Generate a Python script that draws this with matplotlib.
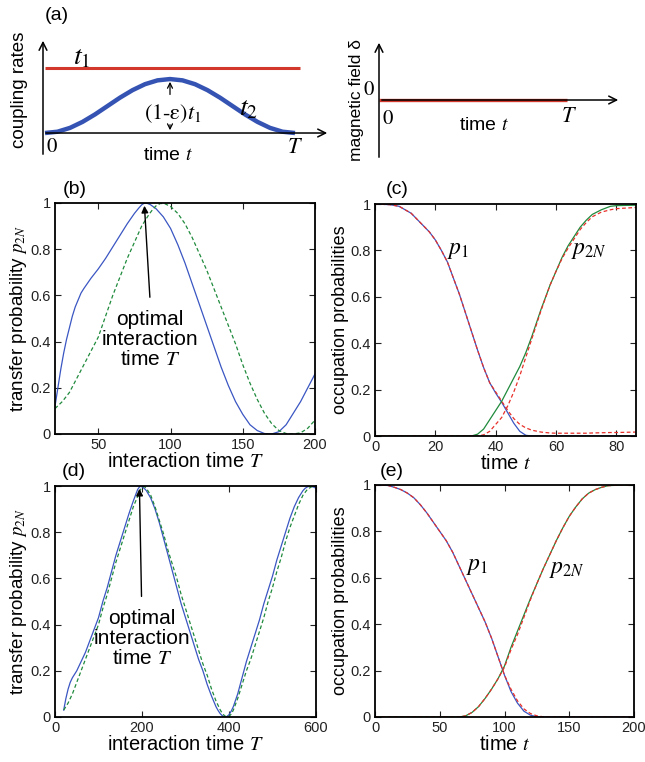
import matplotlib
matplotlib.use('Agg')
import matplotlib.pyplot as plt
from matplotlib.ticker import FuncFormatter

plt.rcParams['font.family'] = ['Liberation Sans', 'DejaVu Sans']
plt.rcParams['mathtext.fontset'] = 'stix'

# --- данные схемы (a) ---
sched_time = [0.0, 0.05, 0.1, 0.15, 0.2, 0.25, 0.3, 0.35, 0.4, 0.45, 0.5,
              0.55, 0.6, 0.65, 0.7, 0.75, 0.8, 0.85, 0.9, 0.95, 1.0]
sched_t2 = [0.0, 0.02, 0.079, 0.171, 0.286, 0.415, 0.544, 0.659, 0.751, 0.81, 0.83,
            0.81, 0.751, 0.659, 0.544, 0.415, 0.286, 0.171, 0.079, 0.02, 0.0]
t1_time = [0.008, 1.028]
t1_level = [1.0, 1.0]
delta_time = [0.0, 1.0]
delta_level = [0.0, 0.0]

# --- панель (b) ---
b_T = [20, 22, 24, 26, 28, 30, 32, 34, 36, 38, 40, 45, 50, 55, 60, 65, 70, 75, 78, 80, 82,
       84, 86, 90, 95, 100, 105, 110, 115, 120, 125, 130, 135, 140, 145, 150, 155, 160, 165,
       170, 175, 180, 185, 190, 195, 200]
b_blue = [0.12, 0.20, 0.28, 0.35, 0.41, 0.46, 0.51, 0.55, 0.58, 0.61, 0.63, 0.675, 0.715,
          0.76, 0.81, 0.86, 0.91, 0.955, 0.978, 0.992, 1.0, 0.998, 0.993, 0.975, 0.94, 0.89,
          0.82, 0.74, 0.65, 0.56, 0.47, 0.38, 0.29, 0.21, 0.14, 0.085, 0.04, 0.015, 0.002,
          0.0, 0.01, 0.04, 0.09, 0.14, 0.20, 0.26]
b_T2 = [20, 25, 30, 35, 40, 45, 50, 55, 60, 65, 70, 75, 80, 85, 88, 90, 93, 96, 100, 105,
        110, 115, 120, 125, 130, 135, 140, 145, 150, 155, 160, 165, 170, 175, 180, 185, 190,
        195, 200]
b_green = [0.11, 0.14, 0.18, 0.24, 0.30, 0.36, 0.42, 0.51, 0.60, 0.68, 0.76, 0.83, 0.90,
           0.95, 0.975, 0.988, 0.998, 0.997, 0.985, 0.955, 0.91, 0.85, 0.78, 0.71, 0.63,
           0.55, 0.47, 0.39, 0.30, 0.22, 0.15, 0.09, 0.045, 0.015, 0.002, 0.0, 0.005, 0.025,
           0.06]

# --- панель (c) ---
c_t = [0, 5, 8, 10, 12, 15, 18, 20, 22, 24, 26, 28, 30, 32, 34, 36, 38, 40, 42, 44, 46, 48,
       50, 52, 55, 58, 60, 62, 64, 66, 68, 70, 72, 75, 78, 80, 86.5]
c_p1 = [1, 0.997, 0.99, 0.975, 0.96, 0.92, 0.88, 0.845, 0.80, 0.75, 0.68, 0.61, 0.53, 0.45,
        0.37, 0.295, 0.23, 0.185, 0.145, 0.10, 0.055, 0.02, 0.003, 0.0, 0, 0, 0, 0, 0, 0, 0,
        0, 0, 0, 0, 0, 0]
c_p1_ref = [1, 0.997, 0.99, 0.975, 0.96, 0.92, 0.88, 0.845, 0.80, 0.75, 0.68, 0.61, 0.53, 0.45,
            0.37, 0.295, 0.23, 0.19, 0.15, 0.11, 0.075, 0.05, 0.035, 0.025, 0.017, 0.013, 0.012,
            0.012, 0.012, 0.012, 0.012, 0.012, 0.013, 0.014, 0.015, 0.015, 0.017]
c_p2n = [0, 0, 0, 0, 0, 0, 0, 0, 0, 0, 0, 0, 0, 0, 0.008, 0.03, 0.07, 0.11, 0.15, 0.20, 0.25,
         0.30, 0.36, 0.43, 0.545, 0.65, 0.71, 0.77, 0.82, 0.86, 0.90, 0.93, 0.955, 0.975,
         0.99, 0.993, 0.995]
c_p2n_ref = [0, 0, 0, 0, 0, 0, 0, 0, 0, 0, 0, 0, 0, 0, 0, 0.005, 0.02, 0.05, 0.08, 0.13, 0.19,
             0.26, 0.34, 0.42, 0.54, 0.65, 0.71, 0.765, 0.81, 0.85, 0.89, 0.92, 0.945, 0.965,
             0.975, 0.98, 0.985]

# --- панель (d) ---
d_T = [20, 25, 30, 35, 40, 50, 60, 70, 80, 90, 100, 110, 120, 130, 140, 150, 160, 170, 180,
       185, 190, 195, 200, 205, 210, 220, 230, 240, 250, 260, 270, 280, 290, 300, 310, 320,
       330, 340, 350, 360, 370, 375, 380, 385, 390, 395, 400, 405, 410, 420, 430, 440, 450,
       460, 470, 480, 490, 500, 510, 520, 530, 540, 550, 560, 570, 575, 580, 585, 590, 595,
       600]
d_blue = [0.03, 0.08, 0.12, 0.15, 0.17, 0.20, 0.24, 0.28, 0.33, 0.38, 0.43, 0.50, 0.56, 0.63,
          0.70, 0.76, 0.82, 0.88, 0.935, 0.96, 0.985, 0.998, 0.997, 0.99, 0.98, 0.948, 0.90,
          0.84, 0.77, 0.70, 0.63, 0.56, 0.49, 0.43, 0.37, 0.31, 0.25, 0.20, 0.14, 0.09, 0.045,
          0.028, 0.014, 0.005, 0.0, 0.002, 0.01, 0.025, 0.045, 0.10, 0.17, 0.24, 0.30, 0.36,
          0.42, 0.49, 0.55, 0.61, 0.68, 0.74, 0.80, 0.86, 0.91, 0.95, 0.98, 0.99, 0.996, 0.999,
          0.998, 0.995, 0.99]
d_T2 = [20, 30, 40, 50, 60, 70, 80, 90, 100, 110, 120, 130, 140, 150, 160, 170, 180, 190,
        195, 200, 205, 210, 220, 230, 240, 250, 260, 270, 280, 290, 300, 310, 320, 330, 340,
        350, 360, 370, 380, 385, 390, 395, 400, 405, 410, 420, 430, 440, 450, 460, 470, 480,
        490, 500, 510, 520, 530, 540, 550, 560, 570, 580, 590, 595, 600]
d_green = [0.03, 0.06, 0.10, 0.15, 0.20, 0.25, 0.30, 0.35, 0.40, 0.47, 0.53, 0.60, 0.67, 0.73,
           0.79, 0.85, 0.91, 0.955, 0.98, 0.995, 0.998, 0.99, 0.96, 0.91, 0.85, 0.79, 0.72,
           0.66, 0.60, 0.53, 0.47, 0.41, 0.35, 0.29, 0.23, 0.18, 0.12, 0.07, 0.03, 0.015, 0.005,
           0.0, 0.003, 0.012, 0.03, 0.08, 0.14, 0.20, 0.25, 0.31, 0.37, 0.43, 0.50, 0.56, 0.63,
           0.69, 0.76, 0.82, 0.87, 0.92, 0.96, 0.985, 0.997, 1.0, 0.999]

# --- панель (e) ---
e_t = [0, 10, 15, 20, 25, 30, 35, 40, 45, 50, 55, 60, 65, 70, 75, 80, 85, 90, 95, 100, 105,
       110, 115, 120, 125, 130, 135, 140, 145, 150, 155, 160, 165, 170, 175, 180, 190, 200]
e_p1 = [1.0, 0.998, 0.99, 0.98, 0.965, 0.945, 0.915, 0.88, 0.84, 0.80, 0.76, 0.71, 0.65, 0.59,
        0.53, 0.47, 0.41, 0.34, 0.26, 0.18, 0.11, 0.06, 0.025, 0.008, 0.001, 0, 0, 0, 0, 0, 0,
        0, 0, 0, 0, 0, 0, 0]
e_p1_ref = [1.0, 0.998, 0.99, 0.98, 0.965, 0.945, 0.915, 0.88, 0.84, 0.80, 0.76, 0.71, 0.65,
            0.59, 0.53, 0.47, 0.41, 0.34, 0.26, 0.18, 0.12, 0.07, 0.035, 0.015, 0.005, 0.001,
            0, 0, 0, 0, 0, 0, 0, 0, 0, 0, 0, 0]
e_p2n = [0, 0, 0, 0, 0, 0, 0, 0, 0, 0, 0, 0, 0, 0.005, 0.02, 0.045, 0.08, 0.12, 0.165, 0.22,
         0.30, 0.37, 0.44, 0.51, 0.575, 0.64, 0.70, 0.76, 0.815, 0.865, 0.905, 0.94, 0.965,
         0.98, 0.99, 0.997, 1.0, 1.0]
e_p2n_ref = [0, 0, 0, 0, 0, 0, 0, 0, 0, 0, 0, 0, 0, 0.005, 0.02, 0.045, 0.08, 0.12, 0.165,
             0.215, 0.29, 0.355, 0.43, 0.505, 0.575, 0.64, 0.70, 0.76, 0.815, 0.865, 0.905,
             0.94, 0.965, 0.98, 0.99, 0.997, 1.0, 1.0]

W, H = 645, 762
fig = plt.figure(figsize=(W / 100, H / 100), dpi=100)


def box(x0, y0, x1, y1):
    # прямоугольник в пикселях -> координаты фигуры
    return [x0 / W, 1 - y1 / H, (x1 - x0) / W, (y1 - y0) / H]


RED = '#d2382b'
BLUE = '#3553b3'
LBLUE = '#3a56c2'
GREEN = '#1f8a3c'
LRED = '#e8302a'
arr = dict(arrowstyle='-|>', color='black', lw=1.0, mutation_scale=10)
ax_arrow = dict(arrowstyle='->', lw=1.1, mutation_scale=14)

# ---------- (a) левая схема ----------
sa = fig.add_axes(box(43, 38, 330, 157))
sa.set_xlim(0, 1.148)
sa.set_ylim(-0.369, 1.4615)
sa.axis('off')
sa.plot(t1_time, t1_level, color=RED, lw=2.2, solid_capstyle='butt')
sa.plot([v + 0.008 for v in sched_time], sched_t2, color=BLUE, lw=3.2, solid_capstyle='butt')
sa.annotate('', xy=(1.148, 0), xytext=(0, 0), arrowprops=ax_arrow, annotation_clip=False)
sa.annotate('', xy=(0, 1.4615), xytext=(0, -0.369), arrowprops=ax_arrow, annotation_clip=False)
sa.annotate('', xy=(0.508, 0.83), xytext=(0.508, 0.55), arrowprops=dict(arrowstyle='->', lw=0.9, mutation_scale=9))
sa.annotate('', xy=(0.508, 0.0), xytext=(0.508, 0.17), arrowprops=dict(arrowstyle='->', lw=0.9, mutation_scale=9))
sa.text(0.156, 1.17, '$t_1$', fontsize=20, ha='center', va='center')
sa.text(0.52, 0.30, r'$(1\text{-}\mathrm{\varepsilon})t_1$', fontsize=16, ha='center', va='center')
sa.text(0.82, 0.38, '$t_2$', fontsize=20, ha='center', va='center')
sa.text(0.036, -0.215, r'$\mathrm{0}$', fontsize=15, ha='center', va='center')
sa.text(0.50, -0.34, 'time $t$', fontsize=14, ha='center', va='center')
sa.text(1.008, -0.23, '$T$', fontsize=16, ha='center', va='center')
sa.text(-0.092, 0.66, 'coupling rates', fontsize=13.5, rotation=90, ha='center', va='center')

# ---------- (a) правая схема ----------
sb = fig.add_axes(box(379, 40, 621, 160))
sb.set_xlim(0, 1.287)
sb.set_ylim(-1, 1)
sb.axis('off')
sb.plot(delta_time, delta_level, color=RED, lw=2.4, solid_capstyle='butt')
sb.annotate('', xy=(1.287, 0), xytext=(0, 0), arrowprops=ax_arrow, annotation_clip=False)
sb.annotate('', xy=(0, 1), xytext=(0, -1), arrowprops=ax_arrow, annotation_clip=False)
sb.text(-0.053, 0.17, r'$\mathrm{0}$', fontsize=15, ha='center', va='center')
sb.text(0.045, -0.3, r'$\mathrm{0}$', fontsize=15, ha='center', va='center')
sb.text(0.56, -0.42, 'time $t$', fontsize=14, ha='center', va='center')
sb.text(1.01, -0.28, '$T$', fontsize=16, ha='center', va='center')
sb.text(-0.12, 0.0, 'magnetic field δ', fontsize=12.5, rotation=90, ha='center', va='center')

fig.text(57 / W, 1 - 15 / H, '(a)', fontsize=14, ha='center', va='center')


def style(ax, xlim, xticks):
    ax.set_xlim(*xlim)
    ax.set_ylim(0, 1)
    ax.set_xticks(xticks)
    ax.set_yticks([0, 0.2, 0.4, 0.6, 0.8, 1])
    ax.yaxis.set_major_formatter(FuncFormatter(lambda v, p: '%g' % v))
    ax.tick_params(direction='in', top=True, right=True, labelsize=10.5, colors='#222222',
                   length=4, width=0.8, pad=3)
    for s in ax.spines.values():
        s.set_linewidth(1.3)


# ---------- (b) ----------
ax_b = fig.add_axes(box(55, 203, 315, 434))
ax_b.plot(b_T, b_blue, color=LBLUE, lw=0.9)
ax_b.plot(b_T2, b_green, color=GREEN, lw=0.9, ls=(0, (3, 2)))
style(ax_b, (20, 200), [50, 100, 150, 200])
ax_b.set_xlabel('interaction time $T$', fontsize=14.5, labelpad=0)
ax_b.set_ylabel('transfer probability $p_{2N}$', fontsize=13.5, labelpad=1)
ax_b.annotate('', xy=(81.8, 1.0), xytext=(85.8, 0.58), arrowprops=arr)
ax_b.text(85.8, 0.41, 'optimal\ninteraction\ntime $T$', fontsize=15, ha='center', va='center',
          linespacing=1.05)

# ---------- (c) ----------
ax_c = fig.add_axes(box(375, 204, 636, 436))
ax_c.plot(c_t, c_p1, color=LBLUE, lw=0.9)
ax_c.plot(c_t, c_p2n, color=GREEN, lw=0.9)
ax_c.plot(c_t, c_p1_ref, color=LRED, lw=0.9, ls=(0, (3, 2)))
ax_c.plot(c_t, c_p2n_ref, color=LRED, lw=0.9, ls=(0, (3, 2)))
style(ax_c, (0, 86.5), [0, 20, 40, 60, 80])
ax_c.set_xlabel('time $t$', fontsize=14.5, labelpad=0)
ax_c.set_ylabel('occupation probabilities', fontsize=13, labelpad=1)
ax_c.text(27.5, 0.8, '$p_1$', fontsize=17, ha='center', va='center')
ax_c.text(71, 0.8, '$p_{2N}$', fontsize=17, ha='center', va='center')

# ---------- (d) ----------
ax_d = fig.add_axes(box(55, 486, 316, 717))
ax_d.plot(d_T, d_blue, color=LBLUE, lw=0.9)
ax_d.plot(d_T2, d_green, color=GREEN, lw=0.9, ls=(0, (3, 2)))
style(ax_d, (0, 600), [0, 200, 400, 600])
ax_d.set_xlabel('interaction time $T$', fontsize=14.5, labelpad=0)
ax_d.set_ylabel('transfer probability $p_{2N}$', fontsize=13.5, labelpad=1)
ax_d.annotate('', xy=(194, 1.0), xytext=(199, 0.51), arrowprops=arr)
ax_d.text(200, 0.34, 'optimal\ninteraction\ntime $T$', fontsize=15, ha='center', va='center',
          linespacing=1.05)

# ---------- (e) ----------
ax_e = fig.add_axes(box(375, 485, 634, 717))
ax_e.plot(e_t, e_p1, color=LBLUE, lw=0.9)
ax_e.plot(e_t, e_p2n, color=GREEN, lw=0.9)
ax_e.plot(e_t, e_p1_ref, color=LRED, lw=0.9, ls=(0, (3, 2)))
ax_e.plot(e_t, e_p2n_ref, color=LRED, lw=0.9, ls=(0, (3, 2)))
style(ax_e, (0, 200), [0, 50, 100, 150, 200])
ax_e.set_xlabel('time $t$', fontsize=14.5, labelpad=0)
ax_e.set_ylabel('occupation probabilities', fontsize=13, labelpad=1)
ax_e.text(79, 0.65, '$p_1$', fontsize=17, ha='center', va='center')
ax_e.text(148, 0.64, '$p_{2N}$', fontsize=17, ha='center', va='center')

for lab, px, py in [('(b)', 75, 190), ('(c)', 397, 190), ('(d)', 74, 471), ('(e)', 392, 471)]:
    fig.text(px / W, 1 - py / H, lab, fontsize=14, ha='center', va='center')

fig.savefig('out.png', dpi=100)
